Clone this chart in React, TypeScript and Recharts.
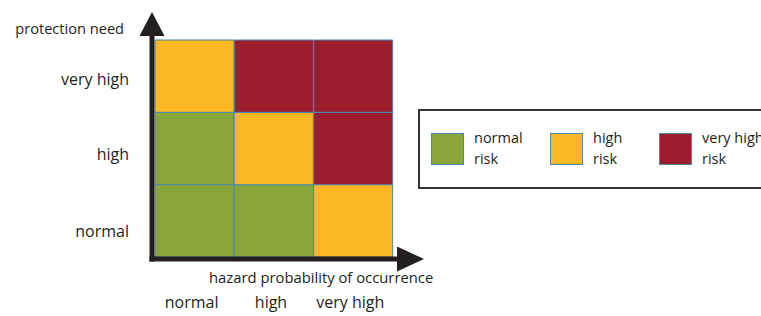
import { BarChart, Bar, XAxis, YAxis, Cell, Label } from 'recharts'

const probabilityLevels = ['normal', 'high', 'very high']
const needLevels = ['normal', 'high', 'very high']
// risk class (0 normal, 1 high, 2 very high) per probability column, one row per protection need
const riskNeedNormal = [0, 0, 1]
const riskNeedHigh = [0, 1, 2]
const riskNeedVeryHigh = [1, 2, 2]
const cellUnits = [1, 1, 1]
// label positions on the need axis (not exactly row centres in the original)
const needTicks = [0.39, 1.46, 2.5]
const riskNames = ['normal', 'high', 'very high']
const riskColors = ['#8aa63b', '#fbb724', '#9d1d2c']

const riskRows = [riskNeedNormal, riskNeedHigh, riskNeedVeryHigh]
const data = probabilityLevels.map((p, i) => ({
  name: p,
  need0: cellUnits[i],
  need1: cellUnits[i],
  need2: cellUnits[i],
}))

const AXIS = '#231f20'
const TEXT = '#231f20'
const FONT = 'Open Sans, sans-serif'

function RiskLegend() {
  const widths = [119, 109, 120]
  return (
    <div
      style={{
        position: 'absolute',
        left: 418,
        top: 109,
        width: 370,
        height: 80,
        boxSizing: 'border-box',
        border: '2px solid #333',
        fontFamily: FONT,
        fontSize: 14.5,
        color: TEXT,
        display: 'flex',
        alignItems: 'flex-start',
        paddingLeft: 11,
        paddingTop: 21,
      }}
    >
      {riskNames.map((n, i) => (
        <div key={n} style={{ display: 'flex', width: widths[i], flexShrink: 0 }}>
          <div
            style={{
              width: 31,
              height: 30,
              background: riskColors[i],
              border: '1px solid #4d87ab',
              marginRight: 10,
              marginTop: 1,
              flexShrink: 0,
            }}
          />
          <div style={{ lineHeight: '21px', marginTop: -5, whiteSpace: 'nowrap' }}>
            {n}
            <br />
            risk
          </div>
        </div>
      ))}
    </div>
  )
}

export default function App() {
  return (
    <div style={{ position: 'absolute', left: 0, top: 0, width: 761, height: 316, overflow: 'hidden' }}>
      <BarChart
        width={761}
        height={316}
        data={data}
        margin={{ top: 35, right: 363, left: 0, bottom: 0 }}
        barCategoryGap={0}
        barGap={0}
        style={{ fontFamily: FONT }}
      >
        <defs>
          <marker id="arrowY" markerUnits="userSpaceOnUse" markerWidth={24} markerHeight={25} viewBox="0 0 24 25" refX={1} refY={12.5} orient="auto-start-reverse">
            <path d="M0,0 L24,12.5 L0,25 Z" fill={AXIS} />
          </marker>
          <marker id="arrowX" markerUnits="userSpaceOnUse" markerWidth={27} markerHeight={25} viewBox="0 0 27 25" refX={1} refY={12.5} orient="auto">
            <path d="M0,0 L27,12.5 L0,25 Z" fill={AXIS} />
          </marker>
        </defs>
        <XAxis
          dataKey="name"
          height={57}
          padding={{ left: 3, right: 5 }}
          axisLine={{ stroke: AXIS, strokeWidth: 5, strokeLinecap: 'square', markerEnd: 'url(#arrowX)' }}
          tickLine={false}
          tickSize={0}
          tickMargin={38}
          tick={{ fill: TEXT, fontSize: 16, dx: -3 }}
        >
          <Label
            content={({ viewBox }: any) => (
              <text x={viewBox.x + 57} y={viewBox.y + 24} fill={TEXT} fontSize={14.8} fontFamily={FONT}>
                hazard probability of occurrence
              </text>
            )}
          />
        </XAxis>
        <YAxis
          type="number"
          domain={[0, 3]}
          ticks={needTicks}
          tickFormatter={(v: number) => needLevels[Math.floor(v)]}
          width={152}
          padding={{ top: 5, bottom: 2 }}
          axisLine={{ stroke: AXIS, strokeWidth: 5, strokeLinecap: 'square', markerStart: 'url(#arrowY)' }}
          tickLine={false}
          tickSize={0}
          tickMargin={23}
          tick={{ fill: TEXT, fontSize: 16, dy: 3 }}
        >
          <Label
            content={({ viewBox }: any) => (
              <text x={viewBox.x + viewBox.width - 28} y={viewBox.y - 1} textAnchor="end" fill={TEXT} fontSize={14.6} fontFamily={FONT}>
                protection need
              </text>
            )}
          />
        </YAxis>
        {needLevels.map((lvl, j) => (
          <Bar key={lvl} dataKey={`need${j}`} stackId="m" stroke="#4d87ab" strokeWidth={1} isAnimationActive={false}>
            {data.map((d, i) => (
              <Cell key={d.name} fill={riskColors[riskRows[j][i]]} />
            ))}
          </Bar>
        ))}
      </BarChart>
      <RiskLegend />
    </div>
  )
}
